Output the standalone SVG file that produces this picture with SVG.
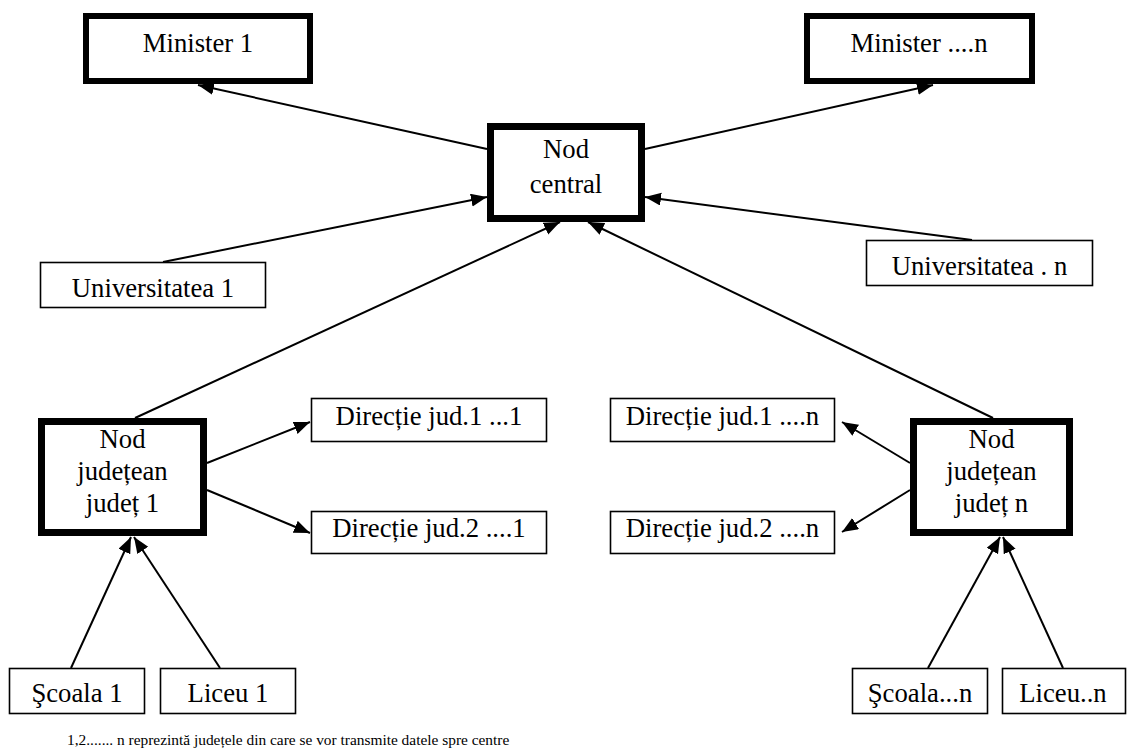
<svg xmlns="http://www.w3.org/2000/svg" width="1127" height="750" viewBox="0 0 1127 750">
<defs>
<style>
.t{font-family:"Liberation Serif","Times New Roman",serif;font-size:26.7px;fill:#000;text-anchor:middle}
.thick{fill:#fff;stroke:#000;stroke-width:6}
.thicker{fill:#fff;stroke:#000;stroke-width:7}
.thin{fill:#fff;stroke:#000;stroke-width:1.6}
.c{stroke:#000;stroke-width:2;fill:none;marker-end:url(#ah)}
.note{font-family:"Liberation Serif","Times New Roman",serif;font-size:15.4px;fill:#000}
</style>
<marker id="ah" markerUnits="userSpaceOnUse" markerWidth="17" markerHeight="14" refX="16" refY="6.5" orient="auto">
<path d="M0,0 L16,6.5 L0,13 z" fill="#000"/>
</marker>
</defs>
<rect width="1127" height="750" fill="#fff"/>
<g id="connectors">
<line class="c" x1="487" y1="149" x2="198" y2="85"/>
<line class="c" x1="645" y1="149" x2="933" y2="85"/>
<line class="c" x1="163" y1="262" x2="487" y2="197"/>
<line class="c" x1="972" y1="240" x2="645" y2="197"/>
<line class="c" x1="135" y1="418" x2="560" y2="222"/>
<line class="c" x1="993" y1="418" x2="588" y2="222"/>
<line class="c" x1="207" y1="463" x2="310" y2="422"/>
<line class="c" x1="207" y1="490" x2="310" y2="533"/>
<line class="c" x1="910" y1="463" x2="842" y2="422"/>
<line class="c" x1="910" y1="490" x2="842" y2="532"/>
<line class="c" x1="71" y1="668" x2="131" y2="537"/>
<line class="c" x1="220" y1="668" x2="134" y2="537"/>
<line class="c" x1="928" y1="668" x2="1000" y2="537"/>
<line class="c" x1="1063" y1="668" x2="1003" y2="537"/>
</g>
<g id="minister1"><rect class="thick" x="86" y="16" width="224" height="65"/><text class="t" x="198" y="52">Minister 1</text></g>
<g id="ministern"><rect class="thick" x="807" y="16" width="225" height="65"/><text class="t" x="919" y="52">Minister ....n</text></g>
<g id="nodcentral"><rect class="thicker" x="490.5" y="126.5" width="151" height="92"/><text class="t" x="566" y="158">Nod</text><text class="t" x="566" y="193">central</text></g>
<g id="univ1"><rect class="thin" x="40.5" y="262.5" width="225" height="45"/><text class="t" x="153" y="297">Universitatea 1</text></g>
<g id="univn"><rect class="thin" x="866.5" y="240.5" width="226" height="45"/><text class="t" x="979.5" y="275">Universitatea . n</text></g>
<g id="judet1"><rect class="thicker" x="41.5" y="421.5" width="162" height="111"/><text class="t" x="122.5" y="448">Nod</text><text class="t" x="122.5" y="480">județean</text><text class="t" x="122.5" y="512">județ 1</text></g>
<g id="judetn"><rect class="thicker" x="913.5" y="421.5" width="156" height="111"/><text class="t" x="991.5" y="448">Nod</text><text class="t" x="991.5" y="480">județean</text><text class="t" x="991.5" y="512">județ n</text></g>
<g id="dir11"><rect class="thin" x="311.5" y="398.5" width="235" height="43"/><text class="t" x="429" y="425">Direcție jud.1 ...1</text></g>
<g id="dir21"><rect class="thin" x="311.5" y="511.5" width="235" height="42"/><text class="t" x="429" y="537">Direcție jud.2 ....1</text></g>
<g id="dir1n"><rect class="thin" x="610.5" y="398.5" width="224" height="43"/><text class="t" x="722.5" y="425">Direcție jud.1 ....n</text></g>
<g id="dir2n"><rect class="thin" x="610.5" y="511.5" width="224" height="42"/><text class="t" x="722.5" y="537">Direcție jud.2 ....n</text></g>
<g id="scoala1"><rect class="thin" x="9.5" y="668.5" width="135" height="45"/><text class="t" x="77" y="702">Şcoala 1</text></g>
<g id="liceu1"><rect class="thin" x="160.5" y="668.5" width="135" height="45"/><text class="t" x="228" y="702">Liceu 1</text></g>
<g id="scoalan"><rect class="thin" x="852.5" y="668.5" width="135" height="45"/><text class="t" x="920" y="702">Şcoala...n</text></g>
<g id="liceun"><rect class="thin" x="1002.5" y="668.5" width="123" height="45"/><text class="t" x="1063" y="702">Liceu..n</text></g>
<text class="note" x="67" y="745">1,2....... n reprezintă județele din care se vor transmite datele spre centre</text>
</svg>
